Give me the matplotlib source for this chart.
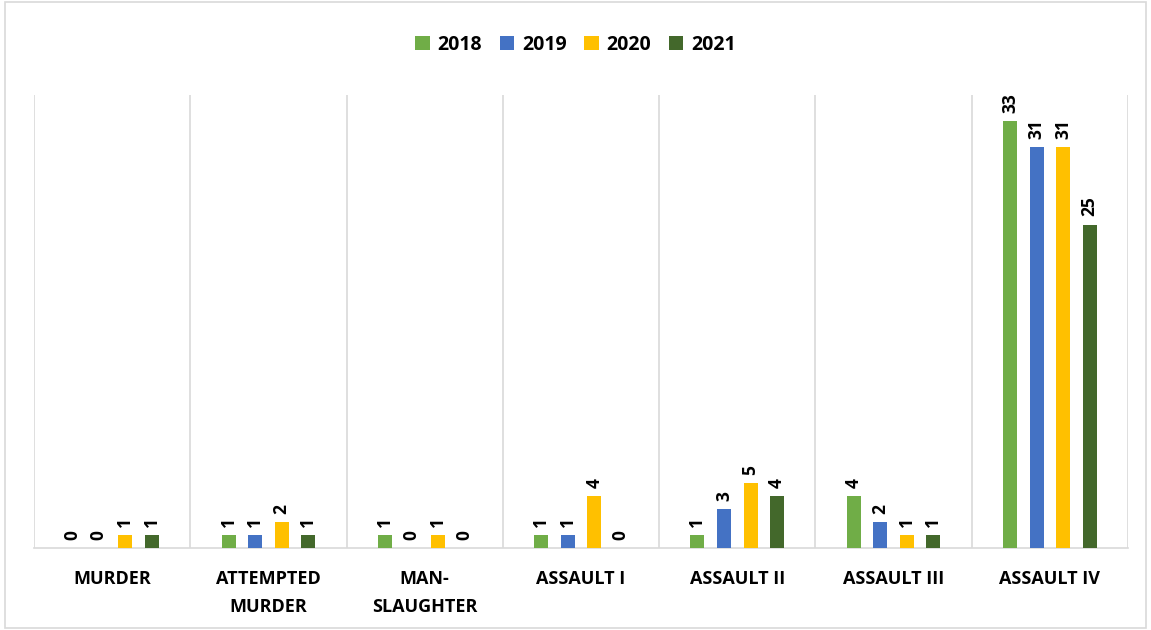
# Grouped bar chart of offences by year, 2018-2021

import matplotlib.pyplot as plt
import numpy as np
from matplotlib.patches import Rectangle

# Data
categories = ['MURDER', 'ATTEMPTED\nMURDER', 'MAN-\nSLAUGHTER', 'ASSAULT I',
              'ASSAULT II', 'ASSAULT III', 'ASSAULT IV']
years = ['2018', '2019', '2020', '2021']
v2018 = [0, 1, 1, 1, 1, 4, 33]
v2019 = [0, 1, 0, 1, 3, 2, 31]
v2020 = [1, 2, 1, 4, 5, 1, 31]
v2021 = [1, 1, 0, 0, 4, 1, 25]
colors = ['#70ad47', '#4472c4', '#ffc000', '#43682b']

plt.rcParams['font.family'] = ['Open Sans', 'DejaVu Sans']

fig = plt.figure(figsize=(11.51, 6.30), dpi=100)
ax = fig.add_axes([0.0295, 0.130, 0.9505, 0.719])

x = np.arange(len(categories))
step = 0.17
width = 0.09
series = [v2018, v2019, v2020, v2021]
for i, (vals, yr, col) in enumerate(zip(series, years, colors)):
    pos = x + (i - 1.5) * step
    bars = ax.bar(pos, vals, width, color=col, label=yr, zorder=3)
    for b, v in zip(bars, vals):
        ax.annotate(str(v), (b.get_x() + b.get_width() / 2, v),
                    xytext=(0, 6), textcoords='offset points',
                    rotation=90, ha='center', va='bottom',
                    fontsize=12.5, fontweight='bold', color='black')

ax.set_xlim(-0.5, len(categories) - 0.5)
ax.set_ylim(0, 35)
ax.set_xticks(x)
ax.set_xticklabels(categories, fontsize=13, fontweight='bold',
                   linespacing=1.7, va='top')
ax.tick_params(axis='x', length=0, pad=16)
ax.set_yticks([])

# vertical separators between categories
ax.set_xticks(np.arange(-0.5, len(categories)), minor=True)
ax.tick_params(axis='x', which='minor', length=0)
ax.grid(axis='x', which='minor', color='#d9d9d9', linewidth=1.2, zorder=0)
ax.grid(axis='x', which='major', visible=False)

for s in ['top', 'right', 'left']:
    ax.spines[s].set_visible(False)
ax.spines['bottom'].set_color('#d9d9d9')
ax.spines['bottom'].set_linewidth(1.2)

fig.legend(loc='upper center', bbox_to_anchor=(0.5, 0.972), ncol=4,
           frameon=False, handlelength=0.75, handleheight=0.75,
           columnspacing=0.9, handletextpad=0.4,
           prop={'size': 14, 'weight': 'bold'})

# light border around the chart
fig.patches.append(Rectangle((0.004, 0.003), 0.992, 0.994, transform=fig.transFigure,
                             fill=False, edgecolor='#d9d9d9', linewidth=1.2))

plt.savefig('out.png', dpi=100)
